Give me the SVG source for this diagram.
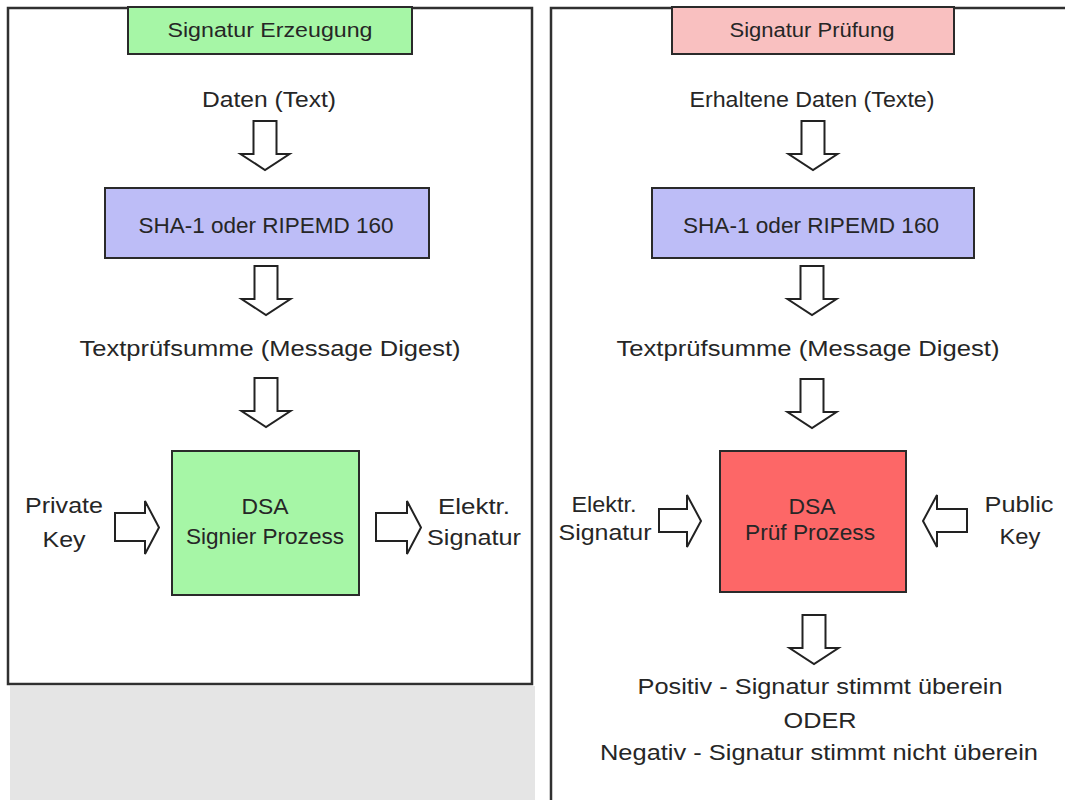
<svg xmlns="http://www.w3.org/2000/svg" xmlns:xlink="http://www.w3.org/1999/xlink" width="1065" height="800" viewBox="0 0 1065 800">
  <style>
    text { font-family: "Liberation Sans", Arial, sans-serif; font-size: 22px; fill: #262626; text-anchor: middle; }
    .title { font-size: 20px; }
    .panel { fill: #ffffff; stroke: #303030; stroke-width: 2.5; }
    .box { stroke: #2a2a2a; stroke-width: 2; }
    .green { fill: #a6f6a6; }
    .pink { fill: #f9c0c0; }
    .hash { fill: #bdbdf7; }
    .red { fill: #fd6767; }
    .arrow { fill: #ffffff; stroke: #222222; stroke-width: 2; stroke-linejoin: miter; }
  </style>
  <defs>
    <!-- hollow block arrow pointing down, origin at top centre of the shaft -->
    <path id="downArrow" d="M-11.5,0 H11.5 V33 H24.5 L0,49 L-24.5,33 H-11.5 Z"/>
  </defs>

  <rect x="0" y="0" width="1065" height="800" fill="#ffffff"/>

  <!-- backdrop below the left panel -->
  <rect x="10" y="686" width="525" height="114" fill="#e5e5e5"/>

  <!-- panels -->
  <g id="panel-erzeugung">
    <rect class="panel" x="8" y="8" width="524" height="676"/>
  </g>
  <g id="panel-pruefung">
    <rect class="panel" x="551" y="8" width="530" height="810"/>
  </g>

  <!-- left column: signing -->
  <g id="title-erzeugung">
    <rect class="box green" x="128" y="7" width="284" height="47"/>
    <text class="title" x="270" y="37" textLength="205" lengthAdjust="spacingAndGlyphs">Signatur Erzeugung</text>
  </g>
  <g id="daten-text">
    <text x="269" y="107" textLength="134" lengthAdjust="spacingAndGlyphs">Daten (Text)</text>
  </g>
  <g id="hash-left">
    <rect class="box hash" x="105" y="188" width="324" height="70"/>
    <text x="266" y="233" textLength="255" lengthAdjust="spacingAndGlyphs">SHA-1 oder RIPEMD 160</text>
  </g>
  <g id="digest-left">
    <text x="270" y="356" textLength="381" lengthAdjust="spacingAndGlyphs">Textprüfsumme (Message Digest)</text>
  </g>
  <g id="dsa-sign">
    <rect class="box green" x="172" y="451" width="187" height="144"/>
    <text x="265" y="514" textLength="47" lengthAdjust="spacingAndGlyphs">DSA</text>
    <text x="265" y="544" textLength="158" lengthAdjust="spacingAndGlyphs">Signier Prozess</text>
  </g>
  <g id="private-key">
    <text x="64" y="513" textLength="78" lengthAdjust="spacingAndGlyphs">Private</text>
    <text x="64" y="547" textLength="43" lengthAdjust="spacingAndGlyphs">Key</text>
  </g>
  <g id="signature-out">
    <text x="474" y="514" textLength="72" lengthAdjust="spacingAndGlyphs">Elektr.</text>
    <text x="474" y="545" textLength="94" lengthAdjust="spacingAndGlyphs">Signatur</text>
  </g>

  <!-- right column: verification -->
  <g id="title-pruefung">
    <rect class="box pink" x="672" y="7" width="282" height="47"/>
    <text class="title" x="812" y="37" textLength="165" lengthAdjust="spacingAndGlyphs">Signatur Prüfung</text>
  </g>
  <g id="received-data">
    <text x="812" y="107" textLength="245" lengthAdjust="spacingAndGlyphs">Erhaltene Daten (Texte)</text>
  </g>
  <g id="hash-right">
    <rect class="box hash" x="652" y="188" width="322" height="70"/>
    <text x="811" y="233" textLength="256" lengthAdjust="spacingAndGlyphs">SHA-1 oder RIPEMD 160</text>
  </g>
  <g id="digest-right">
    <text x="808" y="356" textLength="383" lengthAdjust="spacingAndGlyphs">Textprüfsumme (Message Digest)</text>
  </g>
  <g id="dsa-verify">
    <rect class="box red" x="720" y="451" width="186" height="141"/>
    <text x="812" y="514" textLength="47" lengthAdjust="spacingAndGlyphs">DSA</text>
    <text x="810" y="540" textLength="130" lengthAdjust="spacingAndGlyphs">Prüf Prozess</text>
  </g>
  <g id="signature-in">
    <text x="604" y="512" textLength="65" lengthAdjust="spacingAndGlyphs">Elektr.</text>
    <text x="605" y="540" textLength="93" lengthAdjust="spacingAndGlyphs">Signatur</text>
  </g>
  <g id="public-key">
    <text x="1019" y="512" textLength="69" lengthAdjust="spacingAndGlyphs">Public</text>
    <text x="1020" y="544" textLength="41" lengthAdjust="spacingAndGlyphs">Key</text>
  </g>
  <g id="result">
    <text x="820" y="694" textLength="365" lengthAdjust="spacingAndGlyphs">Positiv - Signatur stimmt überein</text>
    <text x="820" y="728" textLength="73" lengthAdjust="spacingAndGlyphs">ODER</text>
    <text x="819" y="760" textLength="438" lengthAdjust="spacingAndGlyphs">Negativ - Signatur stimmt nicht überein</text>
  </g>

  <!-- block arrows between the steps -->
  <g id="connectors">
    <use xlink:href="#downArrow" class="arrow" transform="translate(265,121)"/>
    <use xlink:href="#downArrow" class="arrow" transform="translate(266,266)"/>
    <use xlink:href="#downArrow" class="arrow" transform="translate(266,378)"/>
    <path class="arrow" d="M115,513 H145 V501 L159,527.5 L145,554 V541 H115 Z"/>
    <path class="arrow" d="M376,513 H407 V501 L421,527.5 L407,554 V541 H376 Z"/>

    <use xlink:href="#downArrow" class="arrow" transform="translate(813,121)"/>
    <use xlink:href="#downArrow" class="arrow" transform="translate(812,266)"/>
    <use xlink:href="#downArrow" class="arrow" transform="translate(812,379)"/>
    <path class="arrow" d="M659,509 H687 V495 L701,521 L687,547 V532 H659 Z"/>
    <path class="arrow" d="M967,509 H937 V495 L923,521 L937,547 V532 H967 Z"/>
    <use xlink:href="#downArrow" class="arrow" transform="translate(814,615)"/>
  </g>
</svg>
